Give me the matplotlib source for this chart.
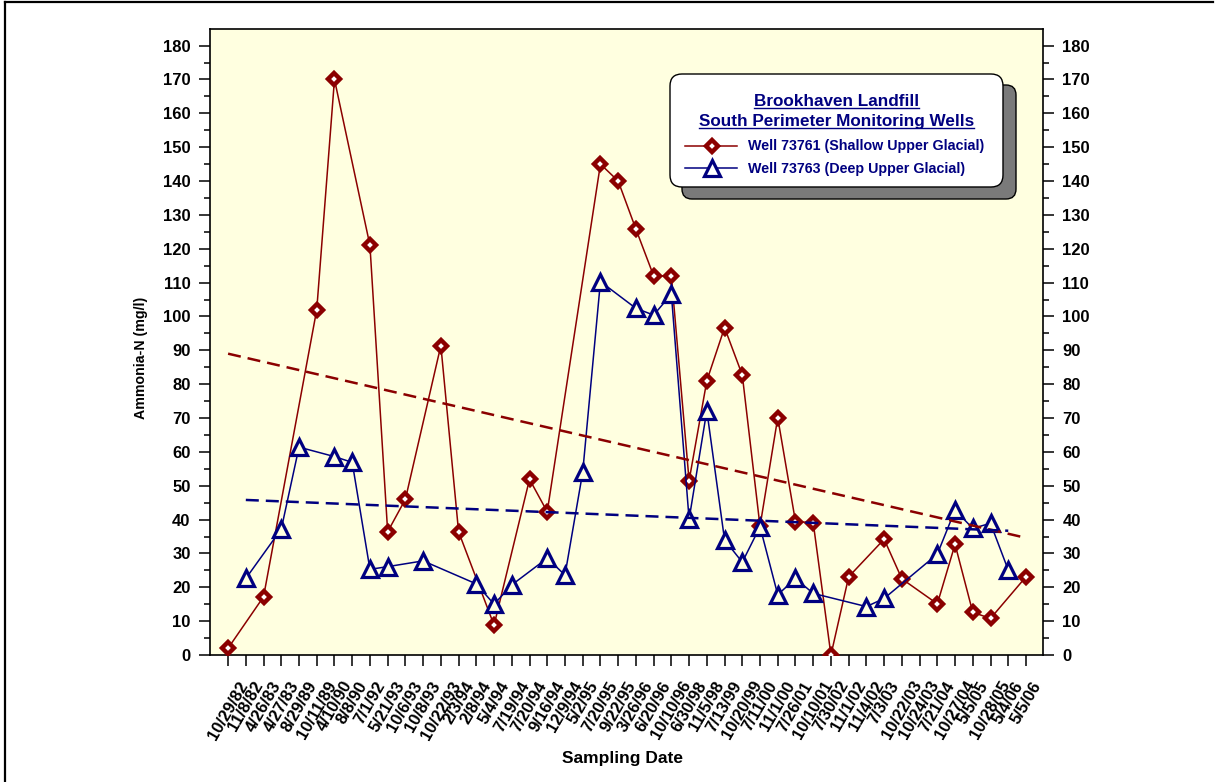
import numpy as np
import matplotlib
matplotlib.use('Agg')
import matplotlib.pyplot as plt
from matplotlib.patches import FancyBboxPatch
from matplotlib.lines import Line2D
from matplotlib.ticker import MultipleLocator

nan = np.nan

dates = ['10/29/82', '11/8/82', '4/26/83', '4/27/83', '8/29/89', '10/11/89', '4/10/90',
         '8/8/90', '7/1/92', '5/21/93', '10/6/93', '10/8/93', '10/22/93', '2/3/94',
         '2/8/94', '5/4/94', '7/19/94', '7/20/94', '9/16/94', '12/9/94', '5/2/95',
         '7/20/95', '9/22/95', '3/26/96', '6/20/96', '10/10/96', '6/30/98', '11/5/98',
         '7/13/99', '10/20/99', '7/11/00', '11/1/00', '7/26/01', '10/10/01', '7/30/02',
         '11/1/02', '11/4/02', '7/3/03', '10/22/03', '10/24/03', '7/21/04', '10/27/04',
         '5/5/05', '10/28/05', '5/4/06', '5/5/06']

well_73761 = [2.0, nan, 17.2, nan, nan, 102.0, 170.0, nan, 121.0, 36.4,
              46.0, nan, 91.4, 36.4, nan, 8.8, nan, 51.9, 42.3, nan,
              nan, 145.0, 140.0, 125.8, 112.0, 112.0, 51.5, 81.0, 96.7, 82.7,
              38.0, 70.1, 39.4, 39.1, 0.0, 23.1, nan, 34.2, 22.5, nan,
              15.1, 32.7, 12.6, 10.8, nan, 23.1]

well_73763 = [nan, 22.6, nan, 37.2, 61.4, nan, 58.6, 56.9, 25.3, 26.1,
              nan, 27.8, nan, nan, 21.0, 15.0, 20.7, nan, 28.6, 23.6,
              54.0, 110.3, nan, 102.4, 100.4, 106.6, 40.1, 72.2, 34.0, 27.4,
              37.9, 17.8, 22.6, 18.2, nan, nan, 14.3, 16.7, nan, nan,
              29.8, 42.8, 37.4, 38.9, 25.1, nan]

# trend line end values (first/last date of each series)
trend_73761 = [89.0, 34.6]
trend_73763 = [45.8, 36.7]

series_names = ['Well 73761 (Shallow Upper Glacial)', 'Well 73763 (Deep Upper Glacial)']
legend_title = ['Brookhaven Landfill', 'South Perimeter Monitoring Wells']

plt.rcParams['font.family'] = ['Liberation Sans', 'DejaVu Sans']
plt.rcParams['font.weight'] = 'bold'

RED = '#8B0000'
NAVY = '#000080'
BG = '#FFFFE0'
W, H = 1215, 782

fig = plt.figure(figsize=(W / 100, H / 100), dpi=100)
fig.patch.set_facecolor('white')
ax = fig.add_axes([210 / W, 1 - 655 / H, (1043 - 210) / W, (655 - 29) / H])
ax.set_facecolor(BG)

x = np.arange(len(dates))
r = np.array(well_73761, float)
b = np.array(well_73763, float)
mr = ~np.isnan(r)
mb = ~np.isnan(b)

red_kw = dict(color=RED, lw=1.1, marker='D', ms=6.6, mfc='white', mec=RED, mew=3.2)
blue_kw = dict(color=NAVY, lw=1.1, marker='^', ms=11.5, mfc=BG, mec=NAVY, mew=2.3)

ax.plot(x[mr], r[mr], zorder=3, **red_kw)
ax.plot(x[mb], b[mb], zorder=4, **blue_kw)

xr = x[mr]
xb = x[mb]
ax.plot([xr[0], xr[-1]], trend_73761, ls=(0, (5.2, 2.8)), color=RED, lw=1.8, zorder=5)
ax.plot([xb[0], xb[-1]], trend_73763, ls=(0, (5.2, 2.8)), color=NAVY, lw=1.8, zorder=5)

ax.set_xlim(-1.02, len(dates) - 1 + 0.96)
ax.set_ylim(0, 184.9)
ax.yaxis.set_major_locator(MultipleLocator(10))
ax.yaxis.set_minor_locator(MultipleLocator(5))
ax.set_xticks(x)
ax.set_xticklabels(dates, rotation=60, ha='center', va='top',
                   fontsize=12, fontweight='bold')
ax.tick_params(axis='y', which='both', left=True, right=True, labelleft=True,
               labelright=True, direction='out', labelsize=12, width=1.1)
ax.tick_params(axis='y', which='major', length=8, pad=6)
ax.tick_params(axis='y', which='minor', length=4.3)
ax.tick_params(axis='x', which='major', length=8, width=1.1, direction='out', pad=9)
for lab in ax.get_yticklabels():
    lab.set_fontweight('bold')
for sp in ax.spines.values():
    sp.set_linewidth(1.2)
    sp.set_color('black')

fig.text(141 / W, 1 - 358 / H, 'Ammonia-N (mg/l)', rotation=90, ha='center', va='center',
         fontsize=10.2, fontweight='bold')
fig.text(622 / W, 1 - 759 / H, 'Sampling Date', ha='center', va='center',
         fontsize=12.5, fontweight='bold')

# overlay in pixel coordinates for legend and border
ov = fig.add_axes([0, 0, 1, 1], zorder=10)
ov.set_xlim(0, W)
ov.set_ylim(H, 0)
ov.axis('off')
ov.patch.set_alpha(0)

ov.add_line(Line2D([5, 1213], [1.5, 1.5], color='black', lw=1.6))
ov.add_line(Line2D([5, 5], [1.5, 782], color='black', lw=1.6))

shadow = FancyBboxPatch((682, 85), 334, 114, boxstyle='round,pad=0,rounding_size=10',
                        facecolor='#7a7a7a', edgecolor='black', lw=1.0)
ov.add_patch(shadow)
box = FancyBboxPatch((670, 74), 333, 113, boxstyle='round,pad=0,rounding_size=12',
                     facecolor='white', edgecolor='black', lw=1.0)
ov.add_patch(box)

cx = (670 + 1003) / 2
t1 = ov.text(cx, 105.5, legend_title[0], ha='center', va='baseline', color=NAVY,
             fontsize=12.3, fontweight='bold')
t2 = ov.text(cx, 126.0, legend_title[1], ha='center', va='baseline', color=NAVY,
             fontsize=12.3, fontweight='bold')

ov.add_line(Line2D([685, 737], [146, 146], color=RED, lw=1.1))
ov.plot([712], [146], linestyle='none', marker='D', ms=6.6, mfc='white', mec=RED, mew=3.2)
ov.add_line(Line2D([685, 737], [168, 168], color=NAVY, lw=1.1))
ov.plot([712], [168], linestyle='none', marker='^', ms=11.5, mfc='white', mec=NAVY, mew=2.3)
ov.text(748, 150.2, series_names[0], ha='left', va='baseline', color=NAVY,
        fontsize=10.3, fontweight='bold')
ov.text(748, 172.5, series_names[1], ha='left', va='baseline', color=NAVY,
        fontsize=10.3, fontweight='bold')

fig.canvas.draw()
renderer = fig.canvas.get_renderer()
for t, yb in ((t1, 105.5), (t2, 126.0)):
    bb = t.get_window_extent(renderer)
    ov.add_line(Line2D([bb.x0, bb.x1], [yb + 2.0, yb + 2.0], color=NAVY, lw=1.0))

fig.savefig('out.png', dpi=100, facecolor='white')
